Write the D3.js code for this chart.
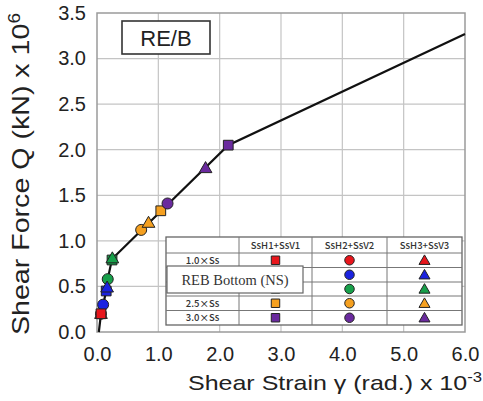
<!DOCTYPE html>
<html>
<head>
<meta charset="utf-8">
<script src="https://cdn.jsdelivr.net/npm/d3@7"></script>
<style>
  body { margin: 0; background: #fff; }
  svg text { font-family: Arial, 'Liberation Sans', sans-serif; }
</style>
</head>
<body>
<svg id="chart" width="483" height="401"></svg>
<script>
// skeleton curve (x = shear strain x10^-3, y = shear force x10^6)
var curveX = [0.03, 0.065, 0.10, 0.15, 0.175, 0.245, 2.14, 6.0];
var curveY = [0.0, 0.20, 0.30, 0.45, 0.58, 0.80, 2.05, 3.27];

// input levels (rows) and waves (columns)
var levels = ['1.0\u00d7Ss', '1.5\u00d7Ss', '2.0\u00d7Ss', '2.5\u00d7Ss', '3.0\u00d7Ss'];
var levelColors = ['#e8161c', '#1a22e0', '#17a04a', '#f5a020', '#6a2a9e'];
var waves = ['SsH1+SsV1', 'SsH2+SsV2', 'SsH3+SsV3'];
var waveShapes = ['square', 'circle', 'triangle'];

// peak response per wave, one value per level
var h1X = [0.065, 0.15, 0.245, 1.04, 2.14];
var h1Y = [0.20, 0.45, 0.79, 1.33, 2.05];
var h2X = [0.065, 0.10, 0.175, 0.72, 1.15];
var h2Y = [0.20, 0.30, 0.58, 1.12, 1.41];
var h3X = [0.065, 0.165, 0.25, 0.84, 1.77];
var h3Y = [0.20, 0.49, 0.81, 1.20, 1.80];

var xTicks = [0, 1, 2, 3, 4, 5, 6];
var yTicks = [0, 0.5, 1.0, 1.5, 2.0, 2.5, 3.0, 3.5];

var svg = d3.select('#chart');
var L = 97, R = 465, T = 13, B = 332;

var x = d3.scaleLinear().domain([0, 6]).range([L, R]);
var y = d3.scaleLinear().domain([0, 3.5]).range([B, T]);

// grid
svg.append('g').selectAll('line').data(xTicks.slice(1, -1)).join('line')
  .attr('x1', d => x(d)).attr('x2', d => x(d)).attr('y1', T).attr('y2', B)
  .style('stroke', '#c4c4c4').style('stroke-width', 1.2);
svg.append('g').selectAll('line').data(yTicks.slice(1, -1)).join('line')
  .attr('y1', d => y(d)).attr('y2', d => y(d)).attr('x1', L).attr('x2', R)
  .style('stroke', '#c4c4c4').style('stroke-width', 1.2);

// frame
svg.append('rect').attr('x', L).attr('y', T).attr('width', R - L).attr('height', B - T)
  .style('fill', 'none').style('stroke', '#9a9a9a').style('stroke-width', 1.5);

// axes
var xAxis = svg.append('g').attr('transform', 'translate(0,' + B + ')')
  .call(d3.axisBottom(x).tickValues(xTicks).tickFormat(d3.format('.1f')).tickSize(0).tickPadding(10));
var yAxis = svg.append('g').attr('transform', 'translate(' + L + ',0)')
  .call(d3.axisLeft(y).tickValues(yTicks).tickFormat(d3.format('.1f')).tickSize(0).tickPadding(11));
[xAxis, yAxis].forEach(function (g) {
  g.select('.domain').remove();
  g.selectAll('text').style('font-size', '20px').style('fill', '#222')
    .style('font-family', "Arial, 'Liberation Sans', sans-serif");
});
xAxis.selectAll('text').attr('dy', '0.95em');

// titles
var xt = svg.append('text').attr('x', 188).attr('y', 390)
  .attr('textLength', 294).attr('lengthAdjust', 'spacingAndGlyphs')
  .style('font-size', '21px').style('fill', '#222');
xt.append('tspan').text('Shear Strain \u03b3 (rad.) x 10');
xt.append('tspan').attr('dy', -8).style('font-size', '14px').text('-3');

var yt = svg.append('text').attr('transform', 'translate(29,335) rotate(-90)')
  .attr('textLength', 322).attr('lengthAdjust', 'spacingAndGlyphs')
  .style('font-size', '24px').style('fill', '#222');
yt.append('tspan').text('Shear Force Q (kN) x 10');
yt.append('tspan').attr('dy', -9).style('font-size', '16px').text('6');

// RE/B label
svg.append('rect').attr('x', 122).attr('y', 21).attr('width', 88).attr('height', 33)
  .style('fill', '#fff').style('stroke', '#333').style('stroke-width', 1.6);
svg.append('text').attr('x', 166).attr('y', 46).attr('text-anchor', 'middle')
  .style('font-size', '22px').style('fill', '#222').text('RE/B');

// curve
var line = d3.line().x(d => x(d[0])).y(d => y(d[1]));
svg.append('path').datum(d3.zip(curveX, curveY)).attr('d', line)
  .style('fill', 'none').style('stroke', '#111').style('stroke-width', 2.2);

// markers
var symTypes = { square: d3.symbolSquare, circle: d3.symbolCircle, triangle: d3.symbolTriangle };
function marker(g, shape, color, px, py, k) {
  var size = (shape == 'triangle' ? 70 : 95) * (k || 1);
  g.append('path')
    .attr('d', d3.symbol().type(symTypes[shape]).size(size)())
    .attr('transform', 'translate(' + px + ',' + (shape == 'triangle' ? py + 1 : py) + ')')
    .style('fill', color).style('stroke', '#222').style('stroke-width', 1);
}

var seriesX = [h1X, h2X, h3X], seriesY = [h1Y, h2Y, h3Y];
var marks = [];
waves.forEach(function (w, j) {
  levels.forEach(function (lv, i) {
    marks.push({ shape: waveShapes[j], level: i, x: seriesX[j][i], y: seriesY[j][i] });
  });
});
// the 1.0 Ss square sits on top of the others at that spot
marks.sort(function (a, b) {
  var za = a.level == 0 ? (a.shape == 'square' ? 9 : -1) : waveShapes.indexOf(a.shape);
  var zb = b.level == 0 ? (b.shape == 'square' ? 9 : -1) : waveShapes.indexOf(b.shape);
  return za - zb;
});
var mg = svg.append('g');
marks.forEach(function (m) {
  marker(mg, m.shape, levelColors[m.level], x(m.x), y(m.y));
});

// legend table
var colX = [166, 239, 312, 387, 462];
var rowY = [237, 253, 267.5, 282, 296, 310.5, 325];
var lg = svg.append('g');
lg.append('rect').attr('x', colX[0]).attr('y', rowY[0])
  .attr('width', colX[4] - colX[0]).attr('height', rowY[6] - rowY[0])
  .style('fill', '#fff').style('stroke', '#666').style('stroke-width', 1.3);
lg.selectAll('.vl').data(colX.slice(1, -1)).join('line')
  .attr('x1', d => d).attr('x2', d => d).attr('y1', rowY[0]).attr('y2', rowY[6])
  .style('stroke', '#777').style('stroke-width', 1);
lg.selectAll('.hl').data(rowY.slice(1, -1)).join('line')
  .attr('y1', d => d).attr('y2', d => d).attr('x1', colX[0]).attr('x2', colX[4])
  .style('stroke', '#777').style('stroke-width', 1);

lg.selectAll('.wh').data(waves).join('text')
  .attr('x', (d, j) => (colX[j + 1] + colX[j + 2]) / 2)
  .attr('y', (rowY[0] + rowY[1]) / 2 + 3.5)
  .attr('text-anchor', 'middle')
  .style('font-family', "'Noto Sans CJK JP', sans-serif")
  .style('font-size', '9.5px').style('font-weight', 500).style('fill', '#333').text(d => d);
// rows 1.5 and 2.0 are covered by the REB Bottom box, their labels don't show
lg.selectAll('.lv').data(levels.map((d, i) => [d, i]).filter(d => d[1] != 1 && d[1] != 2)).join('text')
  .attr('x', (colX[0] + colX[1]) / 2)
  .attr('y', d => (rowY[d[1] + 1] + rowY[d[1] + 2]) / 2 + 3.5)
  .attr('text-anchor', 'middle')
  .style('font-family', "'Noto Sans CJK JP', sans-serif")
  .style('font-size', '9.5px').style('font-weight', 500).style('fill', '#333').text(d => d[0]);

levels.forEach(function (lv, i) {
  waveShapes.forEach(function (s, j) {
    marker(lg, s, levelColors[i], (colX[j + 1] + colX[j + 2]) / 2, (rowY[i + 1] + rowY[i + 2]) / 2, 0.75);
  });
});

// REB Bottom (NS) box over the legend
lg.append('rect').attr('x', 167).attr('y', 266).attr('width', 136).attr('height', 27)
  .style('fill', '#fff').style('stroke', '#666').style('stroke-width', 1.2);
lg.append('text').attr('x', 235).attr('y', 284.5).attr('text-anchor', 'middle')
  .style('font-family', "'Liberation Serif', 'DejaVu Serif', serif")
  .style('font-size', '14.5px').style('fill', '#333').text('REB Bottom (NS)');
</script>
</body>
</html>
